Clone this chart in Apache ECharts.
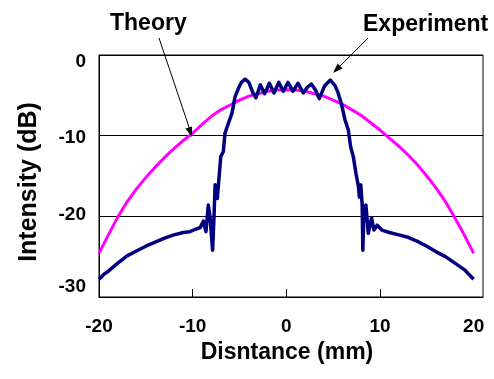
<!DOCTYPE html>
<html>
<head>
<meta charset="utf-8">
<script src="https://cdn.jsdelivr.net/npm/echarts@6/dist/echarts.min.js"></script>
<style>
  html, body { margin: 0; padding: 0; background: #fff; }
  #chart { width: 494px; height: 379px; }
</style>
</head>
<body>
<div id="chart"></div>
<script>
// theory curve, one point per mm
const theoryX = [-20, -19, -18, -17, -16, -15, -14, -13, -12, -11, -10, -9, -8, -7, -6, -5, -4, -3, -2, -1,
  0, 1, 2, 3, 4, 5, 6, 7, 8, 9, 10, 11, 12, 13, 14, 15, 16, 17, 18, 19, 20]
const theoryY = [-24.6, -22.3, -20.1, -18.2, -16.6, -15.2, -13.9, -12.7, -11.6, -10.6, -9.7, -8.6, -7.6, -6.8, -6.2, -5.6, -5.1, -4.8, -4.5, -4.35,
  -4.3, -4.35, -4.5, -4.8, -5.1, -5.6, -6.1, -6.8, -7.5, -8.4, -9.3, -10.3, -11.3, -12.4, -13.6, -15.0, -16.5, -18.2, -20.2, -22.3, -24.6]

// measured curve
const expX = [-20, -19.5, -19, -18.5, -18, -17, -16, -15, -14, -13, -12, -11, -10.3, -9.7, -9.2,
  -8.86, -8.58, -8.33, -8.15, -7.87, -7.72, -7.6, -7.37, -7.15, -7.0, -6.73, -6.55, -6.2, -5.8, -5.48, -5.1, -4.8,
  -4.4, -4.0, -3.6, -3.24, -2.78, -2.31, -1.81, -1.32, -0.81, -0.32, 0.18, 0.71, 1.25, 1.81, 2.25, 2.67, 3.1, 3.52, 4.1,
  4.7, 5.2, 5.5, 5.91, 6.27, 6.62, 6.87, 7.15, 7.44, 7.7, 7.8, 7.95, 8.1, 8.17, 8.3, 8.5, 8.75, 9.1, 9.36, 9.7, 10.2,
  11, 12, 13, 14, 15, 16, 17, 18, 19, 20]
const expY = [-27.8, -27.2, -26.8, -26.3, -25.8, -24.9, -24.3, -23.7, -23.2, -22.7, -22.3, -22.0, -21.9, -21.6, -21.4,
  -20.6, -21.9, -18.6, -20.0, -24.2, -20.0, -16.1, -17.8, -14.7, -12.6, -12.0, -9.7, -8.5, -7.2, -5.2, -4.1, -3.4,
  -3.0, -3.4, -4.6, -5.3, -3.7, -4.8, -3.5, -4.7, -3.4, -4.5, -3.4, -4.5, -3.5, -4.7, -4.0, -3.6, -4.3, -5.4, -3.8,
  -3.1, -3.8, -4.6, -6.2, -8.05, -9.3, -11.4, -12.6, -14.7, -16.3, -17.6, -16.1, -18.6, -24.2, -19.0, -18.6, -22.1, -20.2, -21.7, -21.1, -21.7,
  -22.0, -22.3, -22.6, -23.1, -23.7, -24.4, -25.0, -25.8, -26.6, -27.8]

const xLabels = [-20, -10, 0, 10, 20]
const xTicks = [-10, 0, 10]
const yLabels = [0, -10, -20, -30]

const font = '"Liberation Sans", Arial, sans-serif'
const zip = (xs, ys) => xs.map((x, i) => [x, ys[i]])

// the original's y labels sit a bit off their gridlines
const yLabelStyle = {
  l0: { padding: [14, 0, 0, 0] },
  l10: { padding: [4, 0, 0, 0] },
  l20: { padding: [0, 0, 4, 0] },
  l30: { padding: [0, 0, 20, 0] }
}

const chart = echarts.init(document.getElementById('chart'), null, { renderer: 'canvas' })

const option = {
  animation: false,
  grid: {
    left: 99,
    right: 11,
    top: 55,
    bottom: 82,
    show: true,
    borderColor: '#000',
    borderWidth: 1
  },
  xAxis: {
    type: 'value',
    min: -20,
    max: 21,
    name: 'Disntance (mm)',
    nameLocation: 'middle',
    nameGap: 42,
    nameTextStyle: { color: '#000', fontSize: 23, fontWeight: 'bold', fontFamily: font, padding: [0, 8, 0, 0] },
    axisLine: { show: true, onZero: false, lineStyle: { color: '#000', width: 1 } },
    axisTick: { show: true, inside: true, length: 8, customValues: xTicks, lineStyle: { color: '#000' } },
    axisLabel: { customValues: xLabels, margin: 20, color: '#000', fontSize: 19, fontWeight: 'bold', fontFamily: font },
    splitLine: { show: false }
  },
  yAxis: {
    type: 'value',
    min: -30,
    max: 0,
    interval: 10,
    axisLine: { show: true, onZero: false, lineStyle: { color: '#000', width: 1 } },
    axisTick: { show: false },
    axisLabel: {
      customValues: yLabels,
      margin: 13,
      color: '#000',
      fontSize: 19,
      fontWeight: 'bold',
      fontFamily: font,
      formatter: v => '{l' + Math.abs(v) + '|' + v + '}',
      rich: yLabelStyle
    },
    splitLine: { show: true, lineStyle: { color: '#000', width: 1 } }
  },
  series: [
    {
      name: 'Theory',
      type: 'line',
      data: zip(theoryX, theoryY),
      showSymbol: false,
      lineStyle: { color: '#ff00ff', width: 3 },
      z: 2
    },
    {
      name: 'Experiment',
      type: 'line',
      data: zip(expX, expY),
      showSymbol: false,
      lineStyle: { color: '#000080', width: 3.5, join: 'round' },
      z: 3
    }
  ],
  graphic: [
    {
      type: 'text', x: 29, y: 182, rotation: Math.PI / 2,
      style: { text: 'Intensity (dB)', fill: '#000', font: 'bold 25px ' + font, align: 'center', verticalAlign: 'middle' }
    },
    { type: 'text', left: 110, top: 12, style: { text: 'Theory', fill: '#000', font: 'bold 23px ' + font } },
    { type: 'text', left: 363, top: 13, style: { text: 'Experiment', fill: '#000', font: 'bold 23px ' + font } },
    { type: 'line', shape: { x1: 159, y1: 38, x2: 190, y2: 130 }, style: { stroke: '#000', lineWidth: 1 }, z: 10 },
    { type: 'polygon', shape: { points: [[192, 137], [185.5, 128.6], [192.1, 126.4]] }, style: { fill: '#000' }, z: 10 },
    { type: 'line', shape: { x1: 368, y1: 38, x2: 338, y2: 68 }, style: { stroke: '#000', lineWidth: 1 }, z: 10 },
    { type: 'polygon', shape: { points: [[333, 73], [337.6, 63.4], [342.6, 68.4]] }, style: { fill: '#000' }, z: 10 }
  ]
}

chart.setOption(option)
</script>
</body>
</html>
